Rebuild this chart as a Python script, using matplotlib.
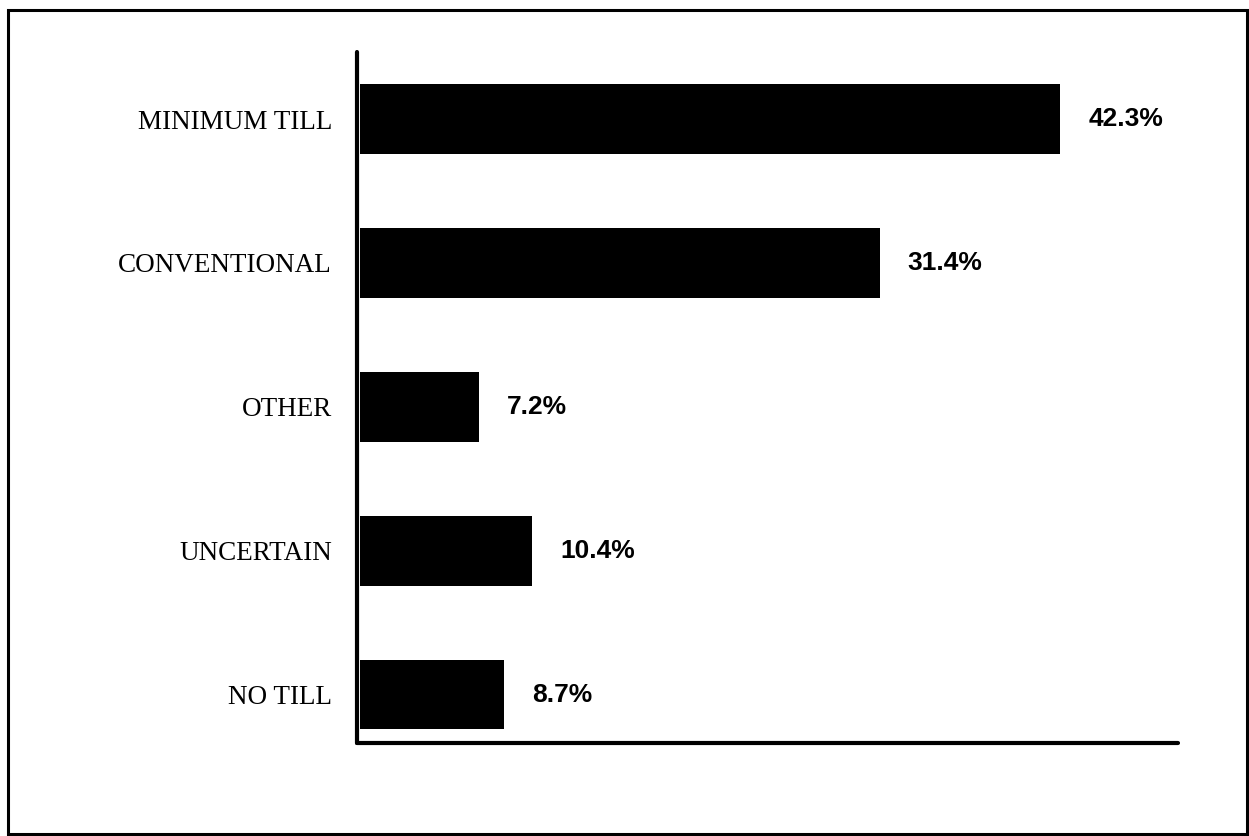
import matplotlib
matplotlib.use("Agg")
import matplotlib.pyplot as plt
from matplotlib.patches import Rectangle

categories = ["NO TILL", "UNCERTAIN", "OTHER", "CONVENTIONAL", "MINIMUM TILL"]
values = [8.7, 10.4, 7.2, 31.4, 42.3]
value_labels = ["8.7%", "10.4%", "7.2%", "31.4%", "42.3%"]

fig = plt.figure(figsize=(12.49, 8.36), dpi=100)
ax = fig.add_axes([357/1249, 1 - 743/836, (1178 - 357)/1249, (743 - 52)/836])

ypos = list(range(len(categories)))
ax.barh(ypos, values, height=0.486, color="black", left=0)

for y, v, lab in zip(ypos, values, value_labels):
    ax.annotate(lab, xy=(v, y), xytext=(20, 0), textcoords="offset points",
                ha="left", va="center", fontsize=19, fontweight="bold",
                family="Liberation Sans")

ax.set_xlim(-0.18, 49.4)
ax.set_ylim(-0.337, 4.466)
ax.set_yticks(ypos)
ax.set_yticklabels(categories, fontsize=19.5, family="Liberation Serif")
ax.tick_params(axis="y", length=0, pad=18)
ax.set_xticks([])
for s in ["top", "right"]:
    ax.spines[s].set_visible(False)
for s in ["left", "bottom"]:
    ax.spines[s].set_linewidth(3)
    ax.spines[s].set_capstyle("round")

border = Rectangle((8/1249, 1 - 834/836), (1247 - 8)/1249, (834 - 10)/836,
                   transform=fig.transFigure, fill=False, edgecolor="black",
                   linewidth=2.2)
fig.patches.append(border)

fig.savefig("out.png", dpi=100)
